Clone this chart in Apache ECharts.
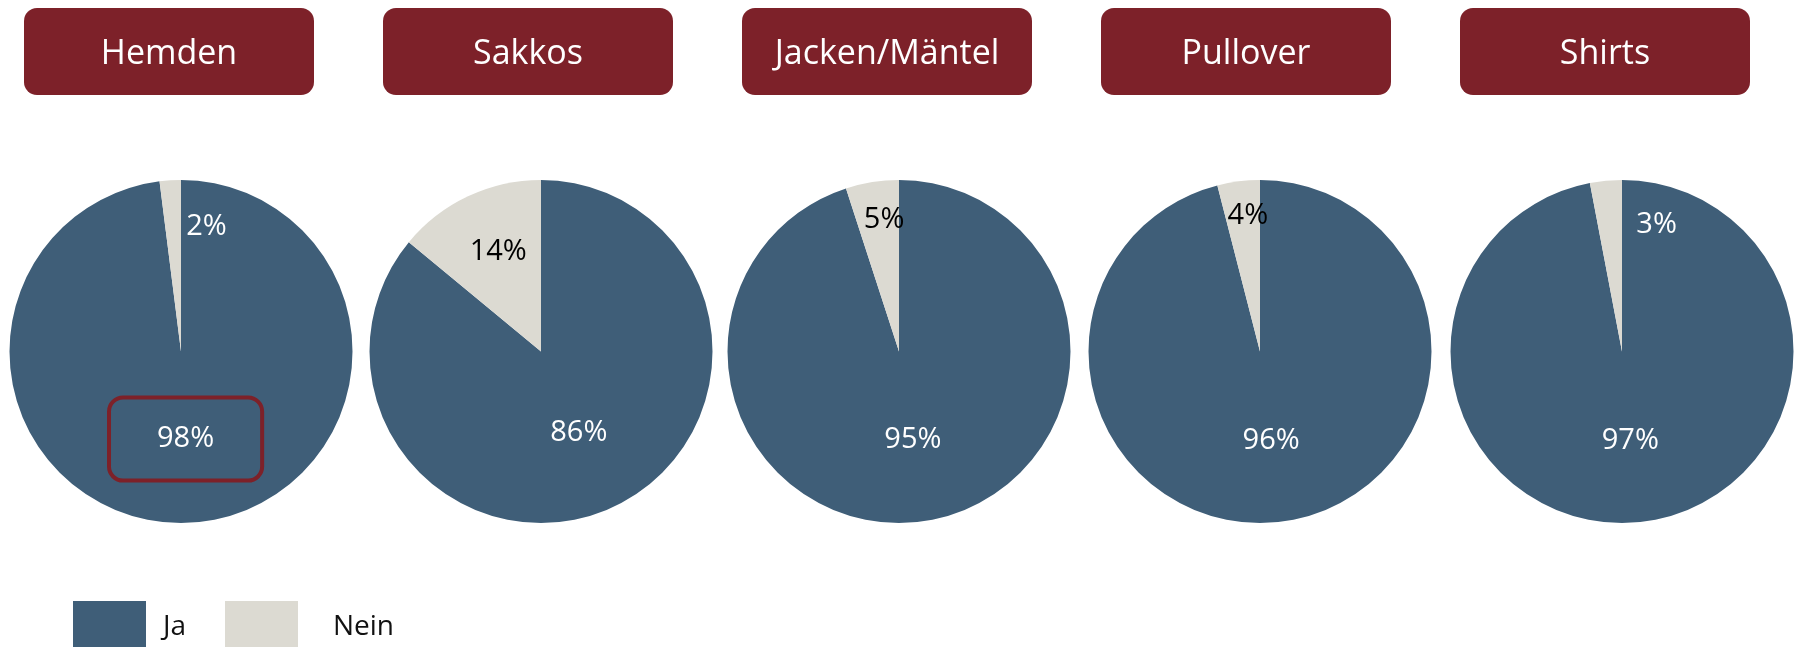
<!DOCTYPE html>
<html>
<head>
<meta charset="utf-8">
<script src="https://cdn.jsdelivr.net/npm/echarts@6/dist/echarts.min.js"></script>
<style>
html,body{margin:0;padding:0;background:#fff;}
#chart{width:1798px;height:647px;}
</style>
</head>
<body>
<div id="chart"></div>
<script>
// ---- data ----
const categories = ['Hemden', 'Sakkos', 'Jacken/Mäntel', 'Pullover', 'Shirts'];
const seriesNames = ['Ja', 'Nein'];
const jaValues = [98, 86, 95, 96, 97];
const neinValues = [2, 14, 5, 4, 3];

// ---- layout / style ----
const FONT = '"Open Sans", "Noto Sans", sans-serif';
const BLUE = '#3F5E78';
const BEIGE = '#DCDAD2';
const RED = '#7D2129';
const pieCenters = [181, 541, 899, 1260, 1622];
const pieCenterY = 351.5;
const pieRadius = 171.5;
const boxLefts = [24, 383, 742, 1101, 1460];
const boxWidth = 290, boxTop = 8, boxHeight = 87;
const neinLabelOffsets = [[31, -36], [-5, -19], [-1, -44], [-1, -48], [43, -38]];
const neinLabelColors = ['#ffffff', '#000000', '#000000', '#000000', '#ffffff'];
const highlightIndex = 0;

const chart = echarts.init(document.getElementById('chart'));

const series = categories.map((cat, i) => {
  const jaLabel = { color: '#ffffff', offset: [0, 1] };
  if (i === highlightIndex) {
    Object.assign(jaLabel, {
      borderColor: RED, borderWidth: 4, borderRadius: 14,
      padding: [27, 48], offset: [-1, -1]
    });
  }
  return {
    type: 'pie',
    name: cat,
    center: [pieCenters[i], pieCenterY],
    radius: pieRadius,
    startAngle: 90,
    clockwise: true,
    silent: true,
    animation: false,
    itemStyle: { borderWidth: 0 },
    label: {
      show: true,
      position: 'inside',
      formatter: '{c}%',
      fontFamily: FONT,
      fontSize: 29,
      color: '#ffffff'
    },
    labelLine: { show: false },
    emphasis: { disabled: true },
    data: [
      { name: seriesNames[0], value: jaValues[i], label: jaLabel },
      { name: seriesNames[1], value: neinValues[i],
        label: { color: neinLabelColors[i], offset: neinLabelOffsets[i] } }
    ]
  };
});

const graphics = [];
categories.forEach((cat, i) => {
  graphics.push({
    type: 'rect',
    left: boxLefts[i], top: boxTop,
    shape: { width: boxWidth, height: boxHeight, r: 13 },
    style: { fill: RED },
    silent: true
  });
  graphics.push({
    type: 'text',
    x: boxLefts[i] + boxWidth / 2,
    y: boxTop + boxHeight / 2 + 3,
    style: {
      text: cat, fill: '#ffffff', font: '34px ' + FONT,
      textAlign: 'center', textVerticalAlign: 'middle'
    },
    silent: true
  });
});

const legendBase = {
  orient: 'horizontal', top: 601, padding: 0,
  icon: 'rect', itemWidth: 73, itemHeight: 52,
  selectedMode: false
};

chart.setOption({
  color: [BLUE, BEIGE],
  animation: false,
  legend: [
    Object.assign({}, legendBase, {
      left: 73, data: [seriesNames[0]],
      textStyle: { fontFamily: FONT, fontSize: 28, color: '#111', padding: [0, 0, 0, 12] }
    }),
    Object.assign({}, legendBase, {
      left: 225, data: [seriesNames[1]],
      textStyle: { fontFamily: FONT, fontSize: 28, color: '#111', padding: [0, 0, 0, 30] }
    })
  ],
  graphic: graphics,
  series: series
});
</script>
</body>
</html>
